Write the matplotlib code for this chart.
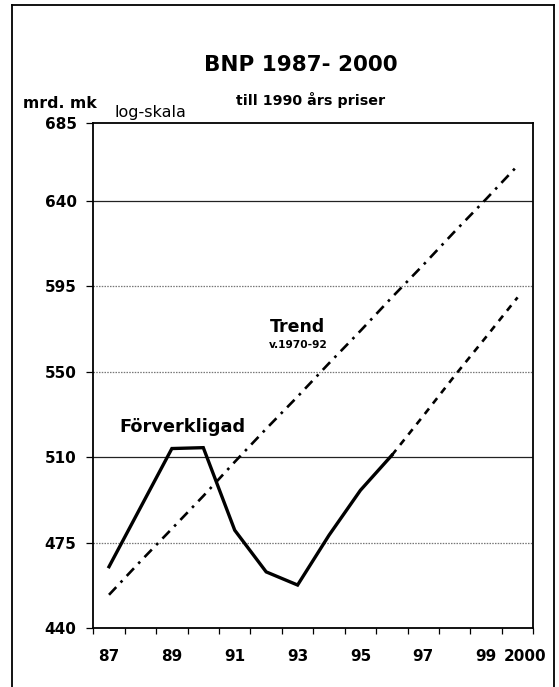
import numpy as np
import matplotlib
matplotlib.use("Agg")
import matplotlib.pyplot as plt
import matplotlib.transforms as mtransforms
from matplotlib.lines import Line2D

# ---- data ----
years = ["87", "88", "89", "90", "91", "92", "93", "94", "95", "96", "97", "98", "99", "2000"]
actual_years = ["87", "88", "89", "90", "91", "92", "93", "94", "95", "96"]
actual_vals = [464.3, 489.0, 515.0, 515.4, 479.4, 462.2, 456.9, 477.3, 496.5, 512.0]
forecast_years = ["96", "97", "98", "99", "2000"]
forecast_vals = [512.0, 530.0, 549.0, 568.0, 588.0]
trend_vals = [453, 466.5, 480, 494, 509, 524, 539, 555, 571, 588, 605, 623, 641, 660]
y_labels = ["440", "475", "510", "550", "595", "640", "685"]
x_labels = ["87", "", "89", "", "91", "", "93", "", "95", "", "97", "", "99", "2000"]

W, H = 559, 687
fig = plt.figure(figsize=(W / 100, H / 100), dpi=100)
fig.patch.set_facecolor("white")

def fx(px):
    return px / W

def fy(py):
    return 1 - py / H

L, R, T, B = 93.3, 533.3, 123.3, 628.0
ax = fig.add_axes([fx(L), fy(B), fx(R) - fx(L), fy(T) - fy(B)])

idx = {y: i for i, y in enumerate(years)}
xa = [idx[y] for y in actual_years]
xf = [idx[y] for y in forecast_years]
xt = list(range(len(years)))

ax.set_yscale("log")
ymin, ymax = 440.0, 685.0
ax.set_ylim(ymin, ymax)
ax.set_xlim(-0.5, len(years) - 0.5)

# evenly spaced log ticks (Excel-like) between 440 and 640, plus top at 685
ytick_pos = [ymin * (640.0 / ymin) ** (k / 5) for k in range(6)] + [ymax]

# gridlines
solid_grid = [2, 5]
dotted_grid = [1, 3, 4]
for k in solid_grid:
    ax.axhline(ytick_pos[k], color="#222222", lw=0.9, zorder=1)
for k in dotted_grid:
    ax.axhline(ytick_pos[k], color="#777777", lw=0.9, ls=(0, (1.2, 1.0)), zorder=1)

ax.plot(xt, trend_vals, color="black", lw=1.9, ls=(0, (4, 2.4, 1, 2.4)), zorder=3,
        dash_capstyle="butt")
ax.plot(xf, forecast_vals, color="black", lw=1.9, ls=(0, (2.6, 2.4)), zorder=3,
        dash_capstyle="butt")
ax.plot(xa, actual_vals, color="black", lw=2.4, zorder=4, solid_joinstyle="miter")

ax.set_yticks(ytick_pos)
ax.set_yticklabels(y_labels)
ax.yaxis.set_minor_locator(matplotlib.ticker.NullLocator())
ax.set_xticks(xt)
ax.set_xticklabels(x_labels)
ax.set_xticks(np.arange(-0.5, len(years), 1.0), minor=True)

for lab in ax.get_yticklabels() + ax.get_xticklabels():
    lab.set_fontfamily("DejaVu Sans")
    lab.set_fontweight("bold")
    lab.set_fontsize(11)

ax.tick_params(axis="y", which="major", direction="out", length=5, width=0.9, pad=7)
ax.tick_params(axis="x", which="major", length=0, pad=15)
ax.tick_params(axis="x", which="minor", direction="out", length=4, width=0.9)

# shift the last x label slightly right, as in the original
last = ax.get_xticklabels()[-1]
last.set_transform(last.get_transform() +
                   mtransforms.ScaledTranslation(7 / 100, 0, fig.dpi_scale_trans))

for s in ax.spines.values():
    s.set_linewidth(1.3)
    s.set_color("black")

# texts
fig.text(fx(301), fy(65), "BNP 1987- 2000", ha="center", va="center",
         fontfamily="DejaVu Sans", fontweight="bold", fontsize=15.5)
fig.text(fx(311), fy(100), "till 1990 års priser", ha="center", va="center",
         fontfamily="DejaVu Sans", fontweight="bold", fontsize=10.3)
fig.text(fx(60), fy(103), "mrd. mk", ha="center", va="center",
         fontfamily="DejaVu Sans", fontweight="bold", fontsize=11.3)
fig.text(fx(150), fy(113), "log-skala", ha="center", va="center",
         fontfamily="DejaVu Sans", fontsize=11.5)
fig.text(fx(298), fy(327), "Trend", ha="center", va="center",
         fontfamily="DejaVu Sans", fontweight="bold", fontsize=12.5)
fig.text(fx(298), fy(345), "v.1970-92", ha="center", va="center",
         fontfamily="DejaVu Sans", fontweight="bold", fontsize=7.7)
fig.text(fx(182), fy(427), "Förverkligad", ha="center", va="center",
         fontfamily="DejaVu Sans", fontweight="bold", fontsize=12.8)

# outer frame (bottom edge lies outside the picture)
frame_kw = dict(color="black", lw=1.3, transform=fig.transFigure)
fig.add_artist(Line2D([fx(12), fx(12)], [0, fy(5)], **frame_kw))
fig.add_artist(Line2D([fx(12), fx(554)], [fy(5), fy(5)], **frame_kw))
fig.add_artist(Line2D([fx(554), fx(554)], [fy(5), 0], **frame_kw))

fig.savefig("out.png", dpi=100)
